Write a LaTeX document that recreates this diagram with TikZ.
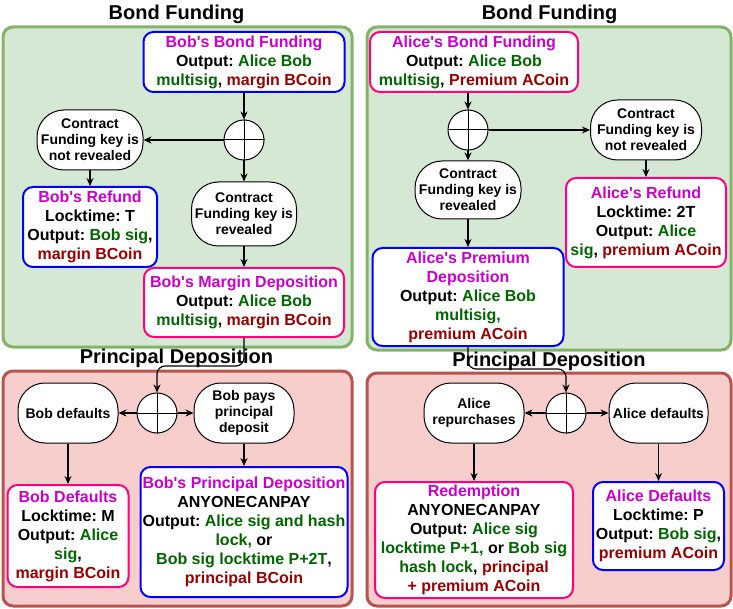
\documentclass[tikz,border=0pt]{standalone}
\usepackage{fontspec}
\setmainfont{Liberation Sans}
\usetikzlibrary{arrows.meta,calc}
\frenchspacing
\definecolor{gfill}{HTML}{D5E8D4}
\definecolor{gline}{HTML}{82B366}
\definecolor{rfill}{HTML}{F8CECC}
\definecolor{rline}{HTML}{B85450}
\definecolor{mag}{HTML}{CC00CC}
\definecolor{grn}{HTML}{006600}
\definecolor{dred}{HTML}{990000}
\definecolor{pnk}{HTML}{FF0080}
\definecolor{blu}{HTML}{0000FF}
\newcommand\cMag[1]{\textcolor{mag}{#1}}
\newcommand\cGrn[1]{\textcolor{grn}{#1}}
\newcommand\cRed[1]{\textcolor{dred}{#1}}
\newcommand\aps{\textquotesingle}
\tikzset{
  grp/.style={rounded corners=10pt, line width=3pt},
  ttl/.style={anchor=base, font=\bfseries\fontsize{20}{24}\selectfont},
  box/.style={draw=#1, fill=white, rounded corners=10pt, line width=2pt, align=center, inner sep=0pt,
    font=\frenchspacing\bfseries\fontsize{16}{19}\selectfont},
  ell/.style={draw, fill=white, rounded corners=27pt, line width=1pt, align=center, inner sep=0pt,
    font=\bfseries\fontsize{14}{16}\selectfont},
  xor/.style={circle, draw, fill=white, minimum size=40pt, inner sep=0pt, line width=1pt},
  arr/.style={line width=1.2pt, -{Stealth[length=8pt,width=7pt]}},
}
\begin{document}
\begin{tikzpicture}[x=1pt,y=-1pt]
\useasboundingbox (0,0) rectangle (733,609);
% containers
\draw[grp, draw=gline, fill=gfill] (3,27) rectangle (352,347);
\draw[grp, draw=gline, fill=gfill] (367,27) rectangle (731,350);
\draw[grp, draw=rline, fill=rfill] (3,371) rectangle (352,606);
\draw[grp, draw=rline, fill=rfill] (367,373) rectangle (731,606);
% titles
\node[ttl] (t1) at (176.5,20) {Bond Funding};
\node[ttl] (t2) at (549.5,20) {Bond Funding};
\node[ttl] (t3) at (176.5,363) {Principal Deposition};
\node[ttl] (t4) at (549,366) {Principal Deposition};
% top-left
\node[box=blu, minimum width=201pt, minimum height=60pt] (b1) at (244,62)
  {\cMag{Bob\aps s Bond Funding}\\Output: \cGrn{Alice Bob}\\\cGrn{multisig}, \cRed{margin BCoin}};
\node[xor] (c1) at (244,140) {};
\draw[line width=1pt] (c1.north) -- (c1.south) (c1.west) -- (c1.east);
\node[ell, minimum width=106pt, minimum height=60pt] (e1) at (90,140)
  {Contract\\Funding key is\\not revealed};
\node[ell, minimum width=105pt, minimum height=64pt] (e2) at (244,214)
  {Contract\\Funding key is\\revealed};
\node[box=blu, minimum width=134pt, minimum height=80pt] (b2) at (90,227)
  {\cMag{Bob\aps s Refund}\\Locktime: T\\Output: \cGrn{Bob sig},\\\cRed{margin BCoin}};
\node[box=pnk, minimum width=200pt, minimum height=69pt] (b3) at (244,302.5)
  {\cMag{Bob\aps s Margin Deposition}\\Output: \cGrn{Alice Bob}\\\cGrn{multisig}, \cRed{margin BCoin}};
\draw[arr] (b1.south) -- (c1.north);
\draw[arr] (c1.south) -- (e2.north);
\draw[arr] (c1.west) -- (e1.east);
\draw[arr] (e1.south) -- (b2.north);
\draw[arr] (e2.south) -- (b3.north);
% top-right
\node[box=pnk, minimum width=208pt, minimum height=60pt] (b4) at (474,62)
  {\cMag{Alice\aps s Bond Funding}\\Output: \cGrn{Alice Bob}\\\cGrn{multisig}, \cRed{Premium ACoin}};
\node[xor] (c2) at (468,130) {};
\draw[line width=1pt] (c2.north) -- (c2.south) (c2.west) -- (c2.east);
\node[ell, minimum width=111pt, minimum height=60pt] (e3) at (646,130)
  {Contract\\Funding key is\\not revealed};
\node[ell, minimum width=106pt, minimum height=58pt] (e4) at (468,190)
  {Contract\\Funding key is\\revealed};
\node[box=pnk, minimum width=160pt, minimum height=89pt] (b5) at (646,222.5)
  {\cMag{Alice\aps s Refund}\\Locktime: 2T\\Output: \cGrn{Alice}\\\cGrn{sig}, \cRed{premium ACoin}};
\node[box=blu, minimum width=191pt, minimum height=98pt] (b6) at (468,297)
  {\cMag{Alice\aps s Premium}\\\cMag{Deposition}\\Output: \cGrn{Alice Bob}\\\cGrn{multisig,}\\\cRed{premium ACoin}};
\draw[arr] (c2 |- b4.south) -- (c2.north);
\draw[arr] (c2.south) -- (e4.north);
\draw[arr] (c2.east) -- (e3.west);
\draw[arr] (e3.south) -- (b5.north);
\draw[arr] (e4.south) -- (b6.north);
% bottom-left
\node[xor] (c3) at (157,413) {};
\draw[line width=1pt] (c3.north) -- (c3.south) (c3.west) -- (c3.east);
\node[ell, minimum width=100pt, minimum height=60pt] (e5) at (68,413) {Bob defaults};
\node[ell, minimum width=100pt, minimum height=60pt] (e6) at (244,413) {Bob pays\\principal\\deposit};
\node[box=pnk, minimum width=121pt, minimum height=102pt] (b7) at (68,536)
  {\cMag{Bob Defaults}\\Locktime: M\\Output: \cGrn{Alice}\\\cGrn{sig},\\\cRed{margin BCoin}};
\node[box=blu, minimum width=207pt, minimum height=130pt] (b8) at (244,532)
  {\cMag{Bob\aps s Principal Deposition}\\ANYONECANPAY\\Output: \cGrn{Alice sig and hash}\\\cGrn{lock,} or\\\cGrn{Bob sig locktime P+2T},\\\cRed{principal BCoin}};
\draw[arr, rounded corners=8pt] (b3.south) -- ++(0,28) -| (c3.north);
\draw[arr] (c3.west) -- (e5.east);
\draw[arr] (c3.east) -- (e6.west);
\draw[arr] (e5.south) -- (b7.north);
\draw[arr] (e6.south) -- (b8.north);
% bottom-right
\node[xor] (c4) at (566,413) {};
\draw[line width=1pt] (c4.north) -- (c4.south) (c4.west) -- (c4.east);
\node[ell, minimum width=100pt, minimum height=60pt] (e7) at (474,413) {Alice\\repurchases};
\node[ell, minimum width=99pt, minimum height=60pt] (e8) at (658.5,413) {Alice defaults};
\node[box=pnk, minimum width=198pt, minimum height=116pt] (b9) at (474,540)
  {\cMag{Redemption}\\ANYONECANPAY\\Output: \cGrn{Alice sig}\\\cGrn{locktime P+1,} or \cGrn{Bob sig}\\\cGrn{hash lock}, \cRed{principal}\\\cRed{+ premium ACoin}};
\node[box=blu, minimum width=131pt, minimum height=88pt] (b10) at (658.5,526)
  {\cMag{Alice Defaults}\\Locktime: P\\Output: \cGrn{Bob sig},\\\cRed{premium ACoin}};
\draw[arr, rounded corners=8pt] (b6.south) -- ++(0,22) -| (c4.north);
\draw[arr] (c4.west) -- (e7.east);
\draw[arr] (c4.east) -- (e8.west);
\draw[arr] (e7.south) -- (b9.north);
\draw[arr] (e8.south) -- (b10.north);
\end{tikzpicture}
\end{document}
